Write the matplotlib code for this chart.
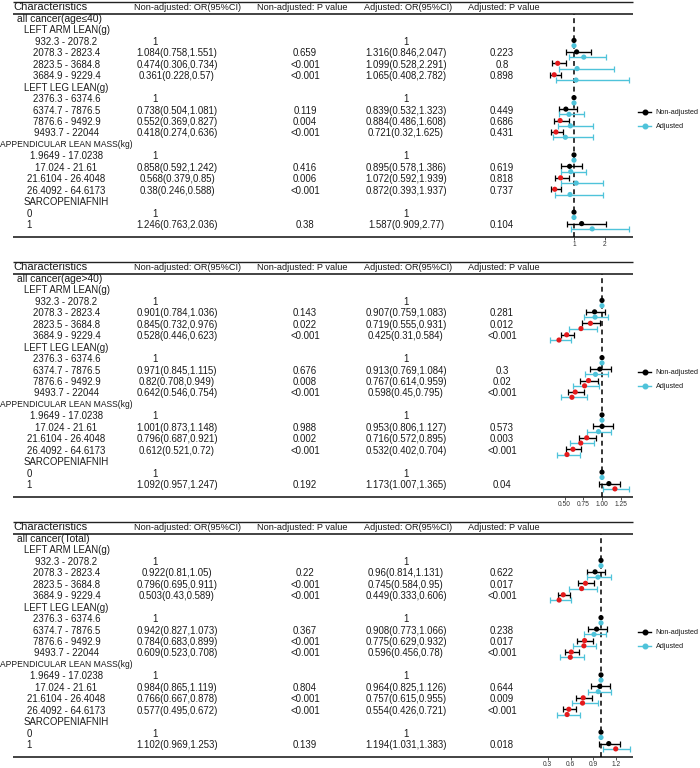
import numpy as np
import matplotlib
matplotlib.use("Agg")
import matplotlib.pyplot as plt

plt.rcParams['font.family'] = ['Liberation Sans', 'DejaVu Sans']

nan = np.nan

# ---------------- data ----------------
headers = ["Characteristics", "Non-adjusted: OR(95%CI)", "Non-adjusted: P value",
           "Adjusted: OR(95%CI)", "Adjusted: P value"]
titles = ["all cancer(age\u226440)", "all cancer(age>40)", "all cancer(Total)"]
row_labels = ["", "LEFT ARM LEAN(g)", "932.3 - 2078.2", "2078.3 - 2823.4", "2823.5 - 3684.8",
              "3684.9 - 9229.4", "LEFT LEG LEAN(g)", "2376.3 - 6374.6", "6374.7 - 7876.5",
              "7876.6 - 9492.9", "9493.7 - 22044", "APPENDICULAR LEAN MASS(kg)",
              "1.9649 - 17.0238", "17.024 - 21.61", "21.6104 - 26.4048", "26.4092 - 64.6173",
              "SARCOPENIAFNIH", "0", "1"]
level_rows = [2, 3, 4, 5, 7, 8, 9, 10, 12, 13, 14, 15, 17, 18]

# Panel 1: age <= 40
p1_na_or = [1, 1.084, 0.474, 0.361, 1, 0.738, 0.552, 0.418, 1, 0.858, 0.568, 0.38, 1, 1.246]
p1_na_lo = [nan, 0.758, 0.306, 0.228, nan, 0.504, 0.369, 0.274, nan, 0.592, 0.379, 0.246, nan, 0.763]
p1_na_hi = [nan, 1.551, 0.734, 0.57, nan, 1.081, 0.827, 0.636, nan, 1.242, 0.85, 0.588, nan, 2.036]
p1_na_p = ["", "0.659", "<0.001", "<0.001", "", "0.119", "0.004", "<0.001", "", "0.416", "0.006", "<0.001", "", "0.38"]
p1_ad_or = [1, 1.316, 1.099, 1.065, 1, 0.839, 0.884, 0.721, 1, 0.895, 1.072, 0.872, 1, 1.587]
p1_ad_lo = [nan, 0.846, 0.528, 0.408, nan, 0.532, 0.486, 0.32, nan, 0.578, 0.592, 0.393, nan, 0.909]
p1_ad_hi = [nan, 2.047, 2.291, 2.782, nan, 1.323, 1.608, 1.625, nan, 1.386, 1.939, 1.937, nan, 2.77]
p1_ad_p = ["", "0.223", "0.8", "0.898", "", "0.449", "0.686", "0.431", "", "0.619", "0.818", "0.737", "", "0.104"]

# Panel 2: age > 40
p2_na_or = [1, 0.901, 0.845, 0.528, 1, 0.971, 0.82, 0.642, 1, 1.001, 0.796, 0.612, 1, 1.092]
p2_na_lo = [nan, 0.784, 0.732, 0.446, nan, 0.845, 0.708, 0.546, nan, 0.873, 0.687, 0.521, nan, 0.957]
p2_na_hi = [nan, 1.036, 0.976, 0.623, nan, 1.115, 0.949, 0.754, nan, 1.148, 0.921, 0.72, nan, 1.247]
p2_na_p = ["", "0.143", "0.022", "<0.001", "", "0.676", "0.008", "<0.001", "", "0.988", "0.002", "<0.001", "", "0.192"]
p2_ad_or = [1, 0.907, 0.719, 0.425, 1, 0.913, 0.767, 0.598, 1, 0.953, 0.716, 0.532, 1, 1.173]
p2_ad_lo = [nan, 0.759, 0.555, 0.31, nan, 0.769, 0.614, 0.45, nan, 0.806, 0.572, 0.402, nan, 1.007]
p2_ad_hi = [nan, 1.083, 0.931, 0.584, nan, 1.084, 0.959, 0.795, nan, 1.127, 0.895, 0.704, nan, 1.365]
p2_ad_p = ["", "0.281", "0.012", "<0.001", "", "0.3", "0.02", "<0.001", "", "0.573", "0.003", "<0.001", "", "0.04"]

# Panel 3: Total
p3_na_or = [1, 0.922, 0.796, 0.503, 1, 0.942, 0.784, 0.609, 1, 0.984, 0.766, 0.577, 1, 1.102]
p3_na_lo = [nan, 0.81, 0.695, 0.43, nan, 0.827, 0.683, 0.523, nan, 0.865, 0.667, 0.495, nan, 0.969]
p3_na_hi = [nan, 1.05, 0.911, 0.589, nan, 1.073, 0.899, 0.708, nan, 1.119, 0.878, 0.672, nan, 1.253]
p3_na_p = ["", "0.22", "<0.001", "<0.001", "", "0.367", "<0.001", "<0.001", "", "0.804", "<0.001", "<0.001", "", "0.139"]
p3_ad_or = [1, 0.96, 0.745, 0.449, 1, 0.908, 0.775, 0.596, 1, 0.964, 0.757, 0.554, 1, 1.194]
p3_ad_lo = [nan, 0.814, 0.584, 0.333, nan, 0.773, 0.629, 0.456, nan, 0.825, 0.615, 0.426, nan, 1.031]
p3_ad_hi = [nan, 1.131, 0.95, 0.606, nan, 1.066, 0.932, 0.78, nan, 1.126, 0.955, 0.721, nan, 1.383]
p3_ad_p = ["", "0.622", "0.017", "<0.001", "", "0.238", "0.017", "<0.001", "", "0.644", "0.009", "<0.001", "", "0.018"]

p1_ticks = [1, 2]
p1_tick_labels = ["1", "2"]
p2_ticks = [0.5, 0.75, 1.0, 1.25]
p2_tick_labels = ["0.50", "0.75", "1.00", "1.25"]
p3_ticks = [0.3, 0.6, 0.9, 1.2]
p3_tick_labels = ["0.3", "0.6", "0.9", "1.2"]

legend_labels = ["Non-adjusted", "Adjusted"]

# ---------------- style / layout ----------------
W, H = 700, 768
C_NA = "#000000"
C_AD = "#4FC3DA"
C_SIG = "#E41A1C"
TXT = "#1a1a1a"

FS = 6.9
FS_TITLE = 7.4
FS_HEAD = 6.6
FS_HEAD0 = 8.0
LABEL_MAX_W = 133  # px available in first column

panels = [
    dict(off=0, title=titles[0],
         na=(p1_na_or, p1_na_lo, p1_na_hi, p1_na_p), ad=(p1_ad_or, p1_ad_lo, p1_ad_hi, p1_ad_p),
         ref_px=574, scale=31.0, ticks=p1_ticks, tl=p1_tick_labels),
    dict(off=260, title=titles[1],
         na=(p2_na_or, p2_na_lo, p2_na_hi, p2_na_p), ad=(p2_ad_or, p2_ad_lo, p2_ad_hi, p2_ad_p),
         ref_px=602, scale=74.8, ticks=p2_ticks, tl=p2_tick_labels),
    dict(off=520, title=titles[2],
         na=(p3_na_or, p3_na_lo, p3_na_hi, p3_na_p), ad=(p3_ad_or, p3_ad_lo, p3_ad_hi, p3_ad_p),
         ref_px=601, scale=76.0, ticks=p3_ticks, tl=p3_tick_labels),
]

ROW0 = 19.0
ROWH = 11.45
HEAD_Y = 7.0
TOP_Y = 1.5
UNDER_Y = 13.5
BOT_Y = 237.0
LINE_X0, LINE_X1 = 13, 633
FX0, FX1 = 540, 633

head_x = [50, 188, 302, 408, 504]
col_x = [66.5, 177, 305, 406, 502]
ref1_x_na = 155


def fmt_ci(o, l, h):
    if np.isnan(l):
        return "1"
    return "%g(%g,%g)" % (o, l, h)


def is_sig(p):
    if p == "":
        return False
    if p.startswith("<"):
        return True
    return float(p) < 0.05


fig = plt.figure(figsize=(W / 100, H / 100), dpi=100)
tab = fig.add_axes([0, 0, 1, 1])
tab.set_xlim(0, W)
tab.set_ylim(H, 0)
tab.axis("off")
renderer = fig.canvas.get_renderer()


def fit_text(x, y, s, fs, maxw, **kw):
    t = tab.text(x, y, s, fontsize=fs, **kw)
    w = t.get_window_extent(renderer=renderer).width
    if w > maxw:
        t.set_fontsize(fs * maxw / w)
    return t


for P in panels:
    off = P["off"]
    # rules
    tab.plot([LINE_X0, LINE_X1], [off + TOP_Y] * 2, color="#222222", lw=1.0, solid_capstyle="butt")
    tab.plot([LINE_X0, LINE_X1], [off + UNDER_Y] * 2, color="#222222", lw=1.2, solid_capstyle="butt")
    tab.plot([LINE_X0, LINE_X1], [off + BOT_Y] * 2, color="#222222", lw=1.2, solid_capstyle="butt")
    # headers
    for j, (hx, htxt) in enumerate(zip(head_x, headers)):
        tab.text(hx, off + HEAD_Y, htxt, ha="center", va="center",
                 fontsize=FS_HEAD0 if j == 0 else FS_HEAD, color=TXT)
    # row labels
    for i, lab in enumerate(row_labels):
        y = off + ROW0 + ROWH * i
        if i == 0:
            tab.text(17, y, P["title"], ha="left", va="center", fontsize=FS_TITLE, color=TXT)
        elif lab in ("0", "1"):
            tab.text(29, y, lab, ha="center", va="center", fontsize=FS, color=TXT)
        else:
            fit_text(col_x[0], y, lab, FS, LABEL_MAX_W, ha="center", va="center", color=TXT)
    # values
    na_or, na_lo, na_hi, na_p = P["na"]
    ad_or, ad_lo, ad_hi, ad_p = P["ad"]
    for k, r in enumerate(level_rows):
        y = off + ROW0 + ROWH * r
        s = fmt_ci(na_or[k], na_lo[k], na_hi[k])
        tab.text(ref1_x_na if s == "1" else col_x[1], y, s, ha="center", va="center",
                 fontsize=FS, color=TXT)
        tab.text(col_x[2], y, na_p[k], ha="center", va="center", fontsize=FS, color=TXT)
        s = fmt_ci(ad_or[k], ad_lo[k], ad_hi[k])
        tab.text(col_x[3], y, s, ha="center", va="center", fontsize=FS, color=TXT)
        tab.text(col_x[4], y, ad_p[k], ha="center", va="center", fontsize=FS, color=TXT)
    # legend
    for j, (lab, c) in enumerate(zip(legend_labels, [C_NA, C_AD])):
        ly = off + 112 + 14 * j
        tab.plot([638, 651], [ly, ly], color=c, lw=1.0)
        tab.plot([644.5], [ly], marker="o", ms=3.3, color=c, mec=c)
        tab.text(655.5, ly, lab, ha="left", va="center", fontsize=5.2, color=TXT)

    # forest axes
    top_px = off + UNDER_Y
    bot_px = off + BOT_Y
    fa = fig.add_axes([FX0 / W, 1 - bot_px / H, (FX1 - FX0) / W, (bot_px - top_px) / H])
    fa.patch.set_alpha(0)
    fa.set_ylim((BOT_Y - ROW0) / ROWH, (UNDER_Y - ROW0) / ROWH)
    fa.set_xlim((FX0 - P["ref_px"]) / P["scale"] + 1, (FX1 - P["ref_px"]) / P["scale"] + 1)
    for sp in fa.spines.values():
        sp.set_visible(False)
    fa.set_yticks([])
    fa.set_xticks(P["ticks"])
    fa.set_xticklabels(P["tl"])
    fa.tick_params(axis="x", direction="out", length=2.2, width=0.6, pad=0.8,
                   labelsize=4.8, colors="#333333")
    fa.axvline(1, color="black", lw=1.1, ls=(0, (3.2, 2.4)), zorder=1)

    for (o, l, h, p), c, dy in [((na_or, na_lo, na_hi, na_p), C_NA, -0.13),
                                ((ad_or, ad_lo, ad_hi, ad_p), C_AD, 0.33)]:
        o = np.array(o, float); l = np.array(l, float); h = np.array(h, float)
        ys = np.array(level_rows, float) + dy
        m = ~np.isnan(l)
        fa.errorbar(o[m], ys[m], xerr=[o[m] - l[m], h[m] - o[m]], fmt="none",
                    ecolor=c, elinewidth=1.0, capsize=2.0, capthick=0.9, zorder=2, clip_on=False)
        pc = [C_SIG if is_sig(pp) else c for pp in p]
        fa.scatter(o, ys, s=14, c=pc, edgecolors="none", zorder=3, clip_on=False)

fig.savefig("out.png", dpi=100)
